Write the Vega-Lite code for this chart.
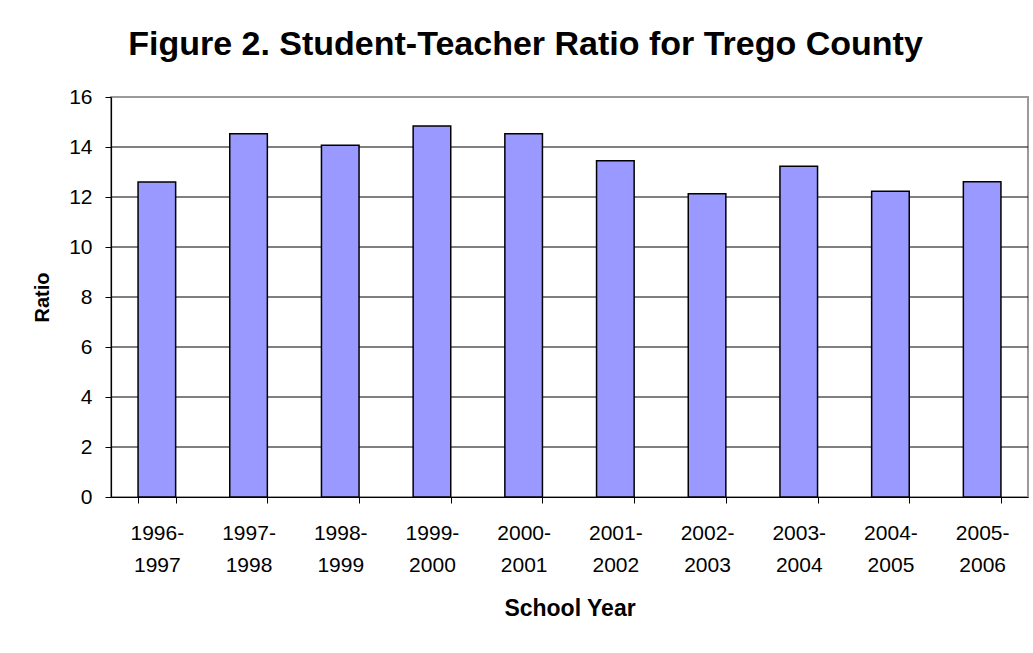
{
  "$schema": "https://vega.github.io/schema/vega-lite/v6.json",
  "autosize": {"type": "none"},
  "padding": {"left": 111, "top": 97, "right": 5, "bottom": 156},
  "width": 917,
  "height": 400,
  "background": "white",
  "title": {
    "text": "Figure 2. Student-Teacher Ratio for Trego County",
    "font": "Liberation Sans",
    "fontSize": 34,
    "fontWeight": "bold",
    "color": "#000000",
    "anchor": "middle",
    "frame": "group",
    "dx": -44,
    "offset": 24
  },
  "datasets": {
    "bars": [
      {"year": "1996-1997", "ratio": 12.6},
      {"year": "1997-1998", "ratio": 14.53},
      {"year": "1998-1999", "ratio": 14.07},
      {"year": "1999-2000", "ratio": 14.84},
      {"year": "2000-2001", "ratio": 14.53},
      {"year": "2001-2002", "ratio": 13.45},
      {"year": "2002-2003", "ratio": 12.13},
      {"year": "2003-2004", "ratio": 13.23},
      {"year": "2004-2005", "ratio": 12.23},
      {"year": "2005-2006", "ratio": 12.61}
    ],
    "grid": [
      {"g": 2}, {"g": 4}, {"g": 6}, {"g": 8}, {"g": 10}, {"g": 12}, {"g": 14}
    ]
  },
  "layer": [
    {
      "data": {"name": "grid"},
      "mark": {"type": "rule", "color": "#000000", "strokeWidth": 1},
      "encoding": {
        "y": {"field": "g", "type": "quantitative"}
      }
    },
    {
      "data": {"name": "bars"},
      "mark": {"type": "bar", "fill": "#9999FF", "stroke": "#000000", "strokeWidth": 1.5},
      "encoding": {
        "x": {
          "field": "year",
          "type": "nominal",
          "sort": null,
          "scale": {"paddingInner": 0.59, "paddingOuter": 0.295},
          "axis": {
            "title": "School Year",
            "titleFont": "Liberation Sans",
            "titleFontSize": 23,
            "titleFontWeight": "bold",
            "titleColor": "#000000",
            "titlePadding": 22,
            "labelFont": "Liberation Sans",
            "labelFontSize": 21,
            "labelColor": "#000000",
            "labelAngle": 0,
            "labelPadding": 19,
            "labelBaseline": "top",
            "labelLineHeight": 32.6,
            "labelExpr": "isString(datum.value) ? [substring(datum.value, 0, 5), substring(datum.value, 5)] : ''",
            "tickBand": "extent",
            "tickSize": 6,
            "tickColor": "#000000",
            "domainColor": "#000000",
            "domainWidth": 1.2,
            "grid": false
          }
        },
        "y": {
          "field": "ratio",
          "type": "quantitative",
          "scale": {"domain": [0, 16], "nice": false},
          "axis": {
            "title": "Ratio",
            "titleFont": "Liberation Sans",
            "titleFontSize": 20,
            "titleFontWeight": "bold",
            "titleColor": "#000000",
            "titlePadding": 16,
            "values": [0, 2, 4, 6, 8, 10, 12, 14, 16],
            "labelFont": "Liberation Sans",
            "labelFontSize": 21,
            "labelColor": "#000000",
            "labelPadding": 13,
            "tickSize": 6,
            "tickColor": "#000000",
            "domainColor": "#000000",
            "domainWidth": 1.2,
            "grid": false
          }
        }
      }
    }
  ],
  "config": {
    "view": {"stroke": "#9a9a9a", "strokeWidth": 2}
  }
}
